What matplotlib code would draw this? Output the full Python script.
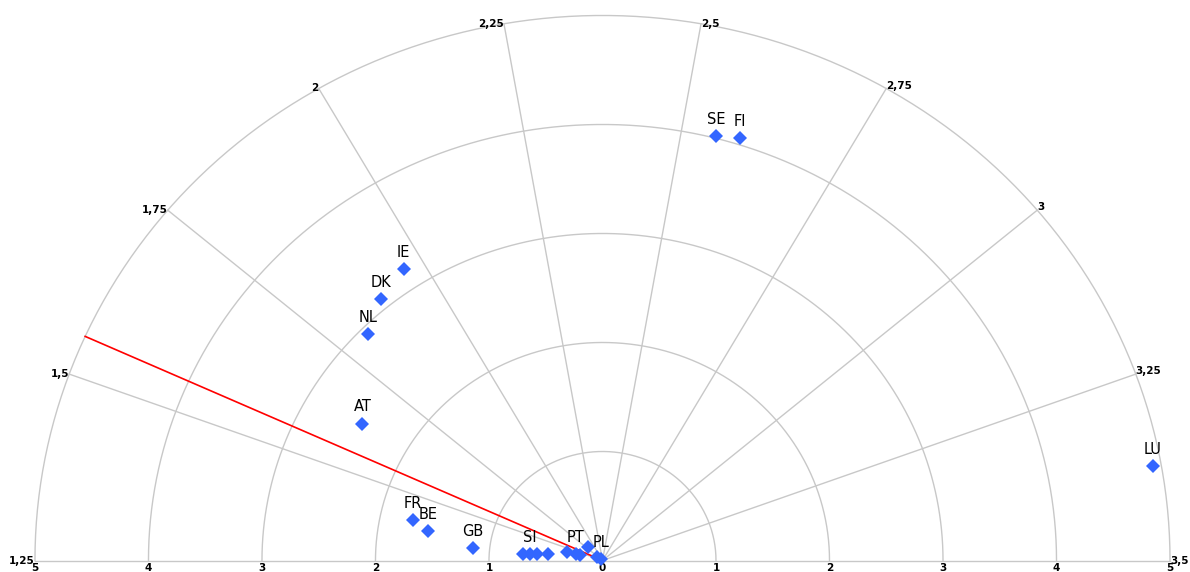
import numpy as np
import matplotlib
matplotlib.use("Agg")
import matplotlib.pyplot as plt

# 각 국가의 각도 값(1.25~3.5 눈금)과 반지름 값(0~5)
countries = ["SE", "FI", "IE", "DK", "NL", "AT", "FR", "BE", "GB",
             "", "SI", "", "",
             "", "PT", "", "",
             "", "PL", "LU"]
angle_vals = [2.555, 2.592, 1.960, 1.885, 1.814, 1.634, 1.407, 1.375, 1.322,
              1.311, 1.317, 1.324, 1.339,
              1.430, 1.416, 1.428, 1.801,
              1.671, 2.00, 3.373]
radius_vals = [4.02, 4.06, 3.20, 3.09, 2.93, 2.46, 1.71, 1.56, 1.15,
               0.70, 0.64, 0.58, 0.48,
               0.325, 0.24, 0.20, 0.18,
               0.06, 0.02, 4.925]

# 기준선 (빨간 선)
ref_angle = 1.5535
ref_radius = 5.0

# 눈금
angle_ticks = [1.25, 1.5, 1.75, 2.0, 2.25, 2.5, 2.75, 3.0, 3.25, 3.5]
angle_labels = ["1,25", "1,5", "1,75", "2", "2,25", "2,5", "2,75", "3", "3,25", "3,5"]
radius_ticks = [1, 2, 3, 4, 5]
radius_labels = ["5", "4", "3", "2", "1", "0", "1", "2", "3", "4", "5"]

A_MIN, A_MAX, R_MAX = 1.25, 3.5, 5.0
GRID = "#c8c8c8"


def to_theta(v):
    # 1.25 -> 180도(왼쪽), 3.5 -> 0도(오른쪽)
    return np.pi * (1 - (np.asarray(v, dtype=float) - A_MIN) / (A_MAX - A_MIN))


def to_xy(v, r):
    t = to_theta(v)
    r = np.asarray(r, dtype=float)
    return r * np.cos(t), r * np.sin(t)


fig = plt.figure(figsize=(11.9, 5.72), dpi=100)
ax = fig.add_axes([0, 0, 1, 1])
ax.set_xlim(-5.308, 5.176)
ax.set_ylim(-0.1055, 5.142)
ax.axis("off")

# 동심 반원
phi = np.linspace(0, np.pi, 400)
for r in radius_ticks:
    ax.plot(r * np.cos(phi), r * np.sin(phi), color=GRID, lw=1.0, zorder=1)

# 방사선
for v in angle_ticks:
    x, y = to_xy(v, R_MAX)
    ax.plot([0, x], [0, y], color=GRID, lw=1.0, zorder=1)

# 각도 눈금 라벨
tick_font = dict(fontsize=7.5, fontweight="bold", clip_on=False)
for v, lab in zip(angle_ticks, angle_labels):
    x, y = to_xy(v, R_MAX)
    deg = np.degrees(to_theta(v))
    if deg > 90.5:
        ax.text(x, y, lab, ha="right", va="center", **tick_font)
    elif deg < 1 or deg > 70:
        ax.text(x, y, lab, ha="left", va="center", **tick_font)
    else:
        ax.text(x, y - 0.02, lab, ha="left", va="bottom", **tick_font)

# 반지름 눈금 라벨 (아래쪽)
for xv, lab in zip(range(-5, 6), radius_labels):
    ax.text(xv, -0.025, lab, ha="center", va="top", **tick_font)

# 기준선
rx, ry = to_xy(ref_angle, ref_radius)
ax.plot([0, rx], [0, ry], color="#ff0000", lw=1.2, zorder=2)

# 국가 점
px, py = to_xy(angle_vals, radius_vals)
ax.plot(px, py, linestyle="none", marker="D", markersize=6.8,
        color="#3366ff", markeredgewidth=0, zorder=3)

for name, x, y in zip(countries, px, py):
    if name:
        ax.annotate(name, (x, y), xytext=(0, 6.5), textcoords="offset points",
                    ha="center", va="bottom", fontsize=10.5, color="black",
                    zorder=4)

fig.savefig("out.png", dpi=100)
